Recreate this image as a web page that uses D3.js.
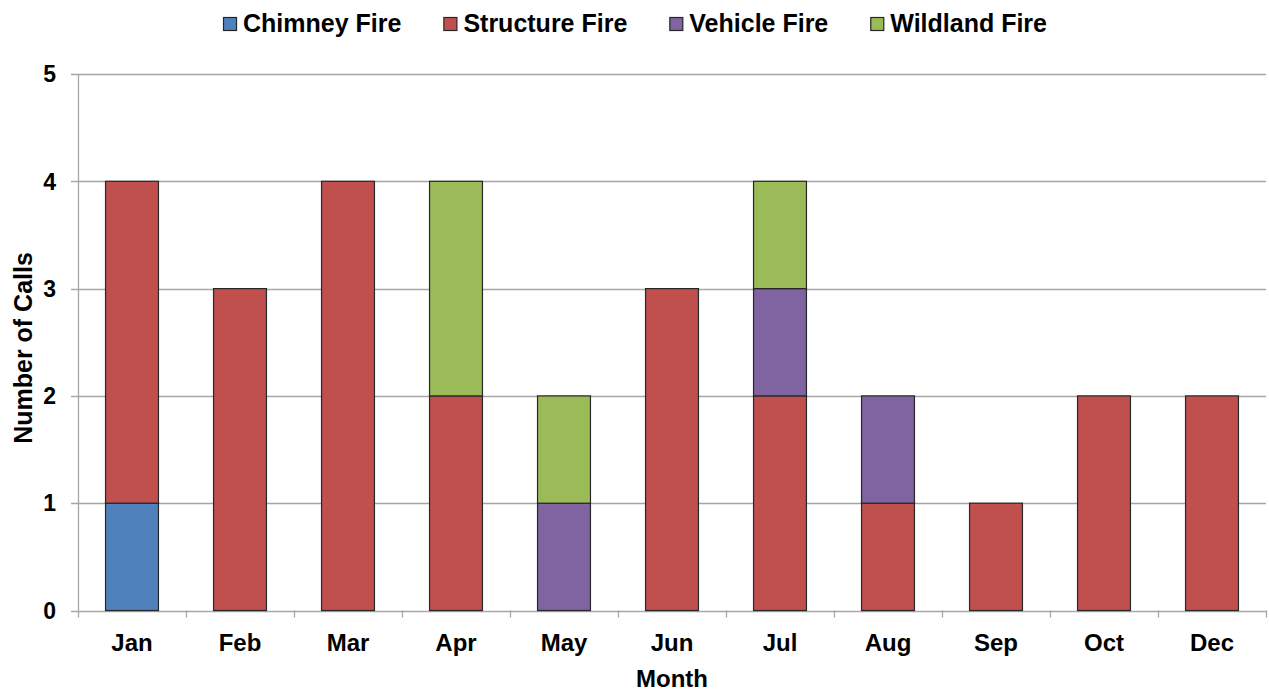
<!DOCTYPE html>
<html>
<head>
<meta charset="utf-8">
<script src="https://cdn.jsdelivr.net/npm/d3@7/dist/d3.min.js"></script>
<style>
    html, body { margin: 0; padding: 0; background: #fff; }
    text { font-family: "Liberation Sans", Arial, sans-serif; font-weight: bold; fill: #000; }
</style>
</head>
<body>
<svg id="chart" width="1269" height="692"></svg>
<script>
    // categories and series
    var months = ['Jan', 'Feb', 'Mar', 'Apr', 'May', 'Jun', 'Jul', 'Aug', 'Sep', 'Oct', 'Dec'];
    var seriesNames = ['Chimney Fire', 'Structure Fire', 'Vehicle Fire', 'Wildland Fire'];
    var chimney   = [1, 0, 0, 0, 0, 0, 0, 0, 0, 0, 0];
    var structure = [3, 3, 4, 2, 0, 3, 2, 1, 1, 2, 2];
    var vehicle   = [0, 0, 0, 0, 1, 0, 1, 1, 0, 0, 0];
    var wildland  = [0, 0, 0, 2, 1, 0, 1, 0, 0, 0, 0];
    var yTicks = [0, 1, 2, 3, 4, 5];
    var colors = ['#4f81bd', '#c0504d', '#8064a2', '#9bbb59'];

    var svg = d3.select('#chart');
    var plotLeft = 78, plotRight = 1266, plotTop = 74, plotBottom = 610.5;

    // build rows for d3.stack
    var values = [chimney, structure, vehicle, wildland];
    var rows = months.map(function (m, i) {
        var r = { month: m };
        seriesNames.forEach(function (s, k) { r[s] = values[k][i]; });
        return r;
    });
    var stacked = d3.stack().keys(seriesNames)(rows);

    var x = d3.scaleBand().domain(months).range([plotLeft, plotRight]).padding(0);
    var y = d3.scaleLinear().domain([0, 5]).range([plotBottom, plotTop]);
    var barW = x.bandwidth() * 0.49;

    // gridlines
    svg.append('g')
        .selectAll('line')
        .data(yTicks)
        .enter()
        .append('line')
        .attr('x1', plotLeft - 7)
        .attr('x2', plotRight)
        .attr('y1', function (d) { return Math.round(y(d)) + 0.5; })
        .attr('y2', function (d) { return Math.round(y(d)) + 0.5; })
        .attr('stroke', '#a6a6a6')
        .attr('stroke-width', 1.3);

    // y axis line
    svg.append('line')
        .attr('x1', plotLeft + 0.5).attr('x2', plotLeft + 0.5)
        .attr('y1', y(5)).attr('y2', y(0))
        .attr('stroke', '#a6a6a6')
        .attr('stroke-width', 1.3);

    // x tick marks at band boundaries
    var bounds = months.map(function (m) { return x(m); }).concat([plotRight]);
    svg.append('g')
        .selectAll('line')
        .data(bounds)
        .enter()
        .append('line')
        .attr('x1', function (d) { return Math.round(d) + 0.5; })
        .attr('x2', function (d) { return Math.round(d) + 0.5; })
        .attr('y1', y(0))
        .attr('y2', y(0) + 7)
        .attr('stroke', '#a6a6a6')
        .attr('stroke-width', 1.3);

    // bars
    svg.append('g')
        .selectAll('g')
        .data(stacked)
        .enter()
        .append('g')
        .attr('fill', function (d, i) { return colors[i]; })
        .selectAll('rect')
        .data(function (d) { return d.filter(function (p) { return p[1] - p[0] > 0; }); })
        .enter()
        .append('rect')
        .attr('x', function (d) { return x(d.data.month) + (x.bandwidth() - barW) / 2; })
        .attr('width', barW)
        .attr('y', function (d) { return y(d[1]); })
        .attr('height', function (d) { return y(d[0]) - y(d[1]); })
        .attr('stroke', '#262626')
        .attr('stroke-width', 1.2);

    // y tick labels
    svg.append('g')
        .selectAll('text')
        .data(yTicks)
        .enter()
        .append('text')
        .attr('x', 56)
        .attr('y', function (d) { return y(d); })
        .attr('dy', '0.36em')
        .attr('text-anchor', 'end')
        .attr('font-size', '23px')
        .text(function (d) { return d; });

    // x tick labels
    svg.append('g')
        .selectAll('text')
        .data(months)
        .enter()
        .append('text')
        .attr('x', function (d) { return x(d) + x.bandwidth() / 2; })
        .attr('y', 651)
        .attr('text-anchor', 'middle')
        .attr('font-size', '24px')
        .text(function (d) { return d; });

    // axis titles
    svg.append('text')
        .attr('x', (plotLeft + plotRight) / 2)
        .attr('y', 687)
        .attr('text-anchor', 'middle')
        .attr('font-size', '24px')
        .text('Month');

    svg.append('text')
        .attr('transform', 'translate(32,' + 348 + ') rotate(-90)')
        .attr('text-anchor', 'middle')
        .attr('font-size', '25px')
        .text('Number of Calls');

    // legend
    var legend = svg.append('g');
    var lx = 223;
    seriesNames.forEach(function (name, i) {
        var item = legend.append('g').attr('transform', 'translate(' + lx + ',0)');
        item.append('rect')
            .attr('x', 0.5).attr('y', 17.5)
            .attr('width', 13).attr('height', 13)
            .attr('fill', colors[i])
            .attr('stroke', '#262626')
            .attr('stroke-width', 1.2);
        var t = item.append('text')
            .attr('x', 20)
            .attr('y', 32)
            .attr('font-size', '25px')
            .text(name);
        lx += 20 + t.node().getComputedTextLength() + 42;
    });
</script>
</body>
</html>
